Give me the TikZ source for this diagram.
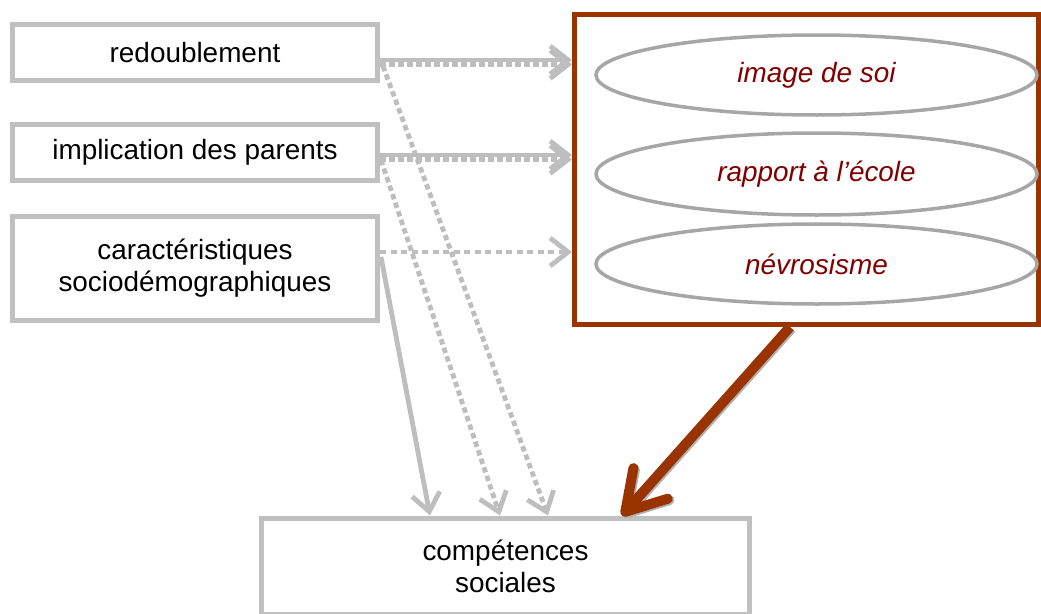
\documentclass[tikz,border=0pt]{standalone}
\usepackage{fontspec}
\setmainfont{Liberation Sans}
\usetikzlibrary{arrows.meta,shapes.geometric}
\definecolor{boxgray}{RGB}{192,192,192}
\definecolor{arrgray}{RGB}{190,190,190}
\definecolor{ellgray}{RGB}{166,166,166}
\definecolor{rustbrown}{RGB}{153,51,0}
\definecolor{ellred}{RGB}{128,0,0}
\begin{document}
\begin{tikzpicture}[x=1pt,y=-1pt,
  txt/.style={font=\fontsize{27.9}{32}\selectfont},
  box/.style={draw=boxgray, line width=5pt, rectangle, inner sep=0pt, align=center, txt},
  ell/.style={draw=ellgray, line width=3.5pt, ellipse, minimum width=441pt, minimum height=80pt, inner sep=0pt, txt, font=\fontsize{27.9}{32}\selectfont\itshape, text=ellred},
  garrow/.style={draw=arrgray, line width=4.8pt, -{Straight Barb[length=18pt,width=28pt]}},
  gdot/.style={garrow, dash pattern=on 5.5pt off 3.5pt},
  barrow/.style={draw=rustbrown, line width=10pt, -{Straight Barb[length=38pt,width=46pt,round]}},
  bshadow/.style={draw=black!30, line width=10pt, -{Straight Barb[length=38pt,width=46pt,round]}},
]
\useasboundingbox (0,0) rectangle (1041,613);
\clip (0,0) rectangle (1041,613);

\node[box, minimum width=365pt, minimum height=55.5pt] (red) at (195,52.25) {redoublement};
\node[box, minimum width=365pt, minimum height=56pt] (impl) at (195,152.5) {implication des parents};
\node[box, minimum width=365pt, minimum height=104.5pt] (soc) at (195,268.25) {caractéristiques\\sociodémographiques};
\node[draw=rustbrown, line width=5pt, minimum width=464pt, minimum height=310pt, inner sep=0pt] (med) at (806.5,169.5) {};
\node[ell] (img) at (816.5,75) {image de soi};
\node[ell, minimum height=82pt] (rap) at (816.5,174) {rapport à l’école};
\node[ell] (nev) at (816.5,264) {névrosisme};
\node[box, minimum width=488pt, minimum height=96pt] (comp) at (505.5,566) {compétences\\sociales};

% horizontal arrows to mediators
\draw[garrow] ([yshift=-7.75pt]red.east) -- ([yshift=109.5pt]med.west);
\draw[gdot] ([yshift=-12.25pt]red.east) -- ([yshift=105pt]med.west);
\draw[garrow] ([yshift=-2.5pt]impl.east) -- ([yshift=14.5pt]med.west);
\draw[gdot] ([yshift=-7pt]impl.east) -- ([yshift=10pt]med.west);
\draw[gdot, dash pattern=on 6pt off 4.5pt] ([yshift=16.25pt]soc.east) -- ([yshift=-82.5pt]med.west);

% direct arrows to outcome
\draw[gdot] ([xshift=3pt,yshift=-13.75pt]red.east) -- ([xshift=42.5pt]comp.north);
\draw[gdot] ([xshift=1pt,yshift=-7.5pt]impl.east) -- ([xshift=-5.5pt]comp.north);
\draw[garrow] ([xshift=1pt,yshift=11.25pt]soc.east) -- ([xshift=-75.5pt]comp.north);

% mediators to outcome
\draw[bshadow] ([xshift=-15pt,yshift=-1.5pt]med.south) -- ([xshift=118pt,yshift=-1.5pt]comp.north);
\draw[barrow] ([xshift=-16.5pt]med.south) -- ([xshift=116.5pt]comp.north);
\end{tikzpicture}
\end{document}
